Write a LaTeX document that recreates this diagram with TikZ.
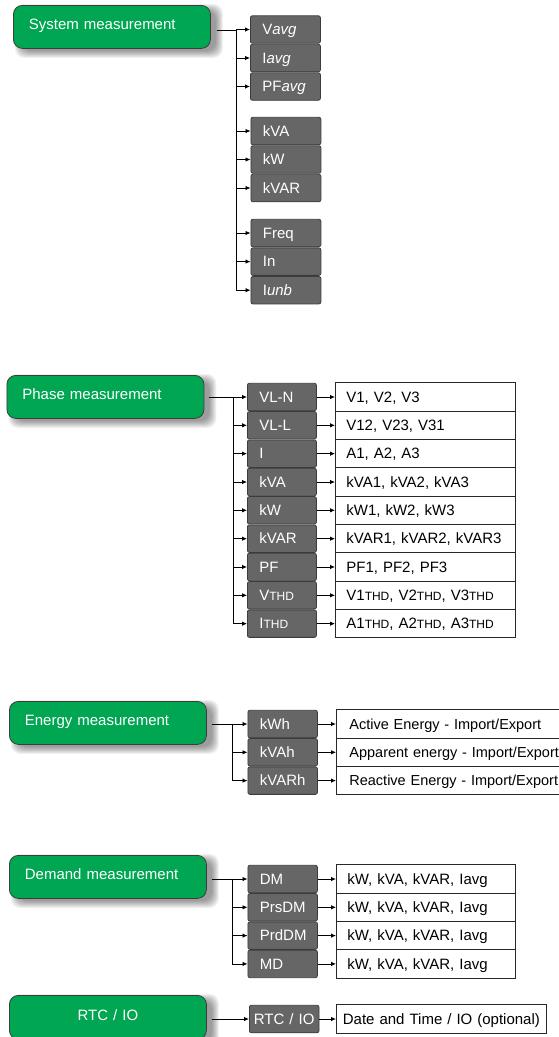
\documentclass[tikz,border=0pt]{standalone}
\usepackage{fontspec}
\setmainfont{Liberation Sans}
\usetikzlibrary{arrows.meta}
\definecolor{ggreen}{RGB}{0,166,81}
\definecolor{gbord}{RGB}{60,60,60}
\definecolor{gfill}{RGB}{102,102,102}
\definecolor{wbord}{RGB}{40,40,40}
\pgfdeclarelayer{bg}
\pgfsetlayers{bg,main}
\hyphenpenalty=10000
\newcommand\fs{\fontsize{15}{18}\selectfont}
\newcommand\thd{{\fontsize{12}{14}\selectfont THD}}
\newcommand\shadowof[1]{%
  \begin{pgfonlayer}{bg}
    \foreach \k in {0,...,7}{%
      \fill[black,opacity=0.06,rounded corners=9pt]
        ([shift={(9-\k,6-\k)}]#1.north west) rectangle ([shift={(5+\k,2+\k)}]#1.south east);}
  \end{pgfonlayer}}
\tikzset{
  meas/.style={draw=gbord, line width=0.8pt, fill=ggreen, rounded corners=9pt, text=white,
    font=\fs, anchor=north west, minimum height=43pt, inner xsep=15.5pt, text width=166pt,
    align=left, text height=11pt, text depth=5pt},
  mbox/.style={draw=gbord, line width=0.8pt, fill=gfill, rounded corners=2pt, text=white,
    font=\fs, anchor=west, minimum height=27.5pt, inner xsep=12pt, text width=46pt,
    align=left, text height=11pt, text depth=0.5pt},
  valbox/.style={draw=wbord, line width=0.8pt, fill=white, text=black, font=\fs,
    anchor=west, minimum height=28.33pt, inner xsep=11pt, text width=#1,
    align=left, text height=11pt, text depth=0.5pt},
  link/.style={draw=black, line width=0.8pt},
  arr/.style={link, -{Latex[length=5pt,width=4.5pt]}}
}
\begin{document}
\begin{tikzpicture}[x=1pt,y=-1pt]
\useasboundingbox (0,0) rectangle (559,1037);

% ---------------- System measurement
\node[meas] (sys) at (13,5) {System measurement};
\shadowof{sys}
\coordinate (sT) at (236,30);
\coordinate (sB) at (236,290.5);
\foreach \t [count=\i from 0] in {V\textit{avg}, I\textit{avg}, PF\textit{avg}}
  \node[mbox] (sa\i) at (250,{29.5+\i*28.5}) {\t};
\foreach \t [count=\i from 0] in {kVA, kW, kVAR}
  \node[mbox] (sb\i) at (250.5,{131+\i*28.5}) {\t};
\foreach \t [count=\i from 0] in {Freq, In, I\textit{unb}}
  \node[mbox] (sc\i) at (250.5,{233+\i*28.6}) {\t};
\draw[link] ([xshift=6pt]sys.east |- sT) -- (sT) -- (sB);
\foreach \n in {sa0,sa1,sa2,sb0,sb1,sb2,sc0,sc1,sc2}
  \draw[arr] (sT |- \n.west) -- (\n.west);

% ---------------- Phase measurement
\node[meas] (pha) at (6.5,375) {Phase measurement};
\shadowof{pha}
\coordinate (pT) at (233,397);
\coordinate (pB) at (233,623.7);
\foreach \g/\w [count=\i from 0] in {
    {VL-N}/{V1, V2, V3},
    {VL-L}/{V12, V23, V31},
    {I}/{A1, A2, A3},
    {kVA}/{kVA1, kVA2, kVA3},
    {kW}/{kW1, kW2, kW3},
    {kVAR}/{kVAR1, kVAR2, kVAR3},
    {PF}/{PF1, PF2, PF3},
    {V\thd}/{V1\thd, V2\thd, V3\thd},
    {I\thd}/{A1\thd, A2\thd, A3\thd}}{
  \node[mbox, text width=45pt] (pg\i) at (247,{397+\i*28.33}) {\g};
  \node[valbox=158pt] (pw\i) at (335,{397+\i*28.33}) {\w};
  \draw[arr] (pg\i.east) -- (pw\i.west);
  \draw[arr] (pT |- pg\i.west) -- (pg\i.west);
}
\draw[link] ([xshift=5pt]pha.east |- pT) -- (pT) -- (pB);

% ---------------- Energy measurement
\node[meas] (ene) at (9,701) {Energy measurement};
\shadowof{ene}
\coordinate (eT) at (232,724);
\coordinate (eB) at (232,780.6);
\foreach \g/\w [count=\i from 0] in {
    {kWh}/{Active Energy - Import/Export},
    {kVAh}/{Apparent energy - Import/Export},
    {kVARh}/{Reactive Energy - Import/Export}}{
  \node[mbox, text width=45.5pt] (eg\i) at (247.5,{724+\i*28.3}) {\g};
  \node[valbox=222pt, font=\fontsize{14.5}{17}\selectfont, inner xsep=13pt] (ew\i) at (336,{724+\i*28.3}) {\w};
  \draw[arr] (eg\i.east) -- (ew\i.west);
  \draw[arr] (eT |- eg\i.west) -- (eg\i.west);
}
\draw[link] ([xshift=5pt]ene.east |- eT) -- (eT) -- (eB);

% ---------------- Demand measurement
\node[meas] (dem) at (9,855) {Demand measurement};
\shadowof{dem}
\coordinate (dT) at (232,879);
\coordinate (dB) at (232,963.9);
\foreach \g [count=\i from 0] in {DM, PrsDM, PrdDM, MD}{
  \node[mbox, text width=45.5pt] (dg\i) at (247.5,{879+\i*28.3}) {\g};
  \node[valbox=157pt] (dw\i) at (336,{879+\i*28.3}) {kW, kVA, kVAR, Iavg};
  \draw[arr] (dg\i.east) -- (dw\i.west);
  \draw[arr] (dT |- dg\i.west) -- (dg\i.west);
}
\draw[link] ([xshift=5pt]dem.east |- dT) -- (dT) -- (dB);

% ---------------- RTC / IO
\node[meas, align=center, minimum height=44pt] (rtc) at (9,995) {RTC / IO};
\shadowof{rtc}
\node[mbox, align=center, inner xsep=2pt, text width=65.6pt] (rg) at (249,1019) {RTC / IO};
\node[valbox=200pt, inner xsep=5pt, align=center] (rw) at (336,1019) {Date and Time / IO (optional)};
\draw[arr] ([xshift=5pt]rtc.east |- rg.west) -- (rg.west);
\draw[arr] (rg.east) -- (rw.west);
\end{tikzpicture}
\end{document}
